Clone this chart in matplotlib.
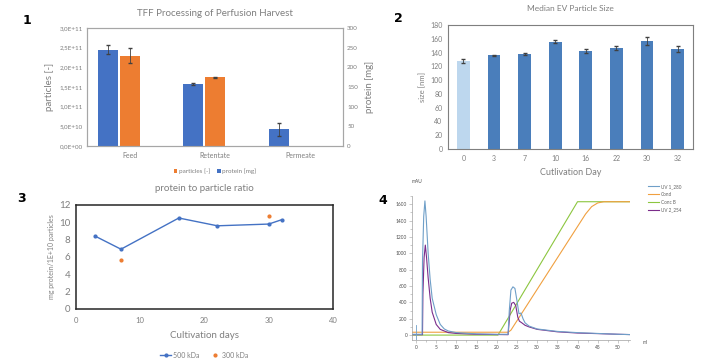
import matplotlib
matplotlib.use("Agg")
import matplotlib.pyplot as plt
import numpy as np

plt.rcParams["font.family"] = ["Lato", "DejaVu Sans"]

GRAY = "#7f7f7f"

# panel 1: TFF processing
tff_steps = ["Feed", "Retentate", "Permeate"]
protein_mg = [245, 158, 42]
protein_err = [12, 2, 17]
particles = [2.30e11, 1.75e11, 0.0]
particles_err = [0.18e11, 0.01e11, 0.0]

# panel 2: median EV particle size
cult_day_labels = ["0", "3", "7", "10", "16", "22", "30", "32"]
size_nm = [128, 136, 138, 156, 142, 146, 157, 145]
size_err = [3, 1, 1, 2, 3, 3, 6, 4]

# panel 3: protein to particle ratio
days_500 = [3, 7, 16, 22, 30, 32]
ratio_500 = [8.4, 6.9, 10.5, 9.6, 9.8, 10.3]
days_300 = [7, 30]
ratio_300 = [5.7, 10.7]

# panel 4: chromatogram
uv280_ml = [-1, 1.5, 1.6, 1.9, 2.2, 2.5, 3.0, 3.5, 4.0, 5.0, 6.0, 7.0, 8.0, 10, 15, 20, 22.8,
            23.1, 23.5, 24.0, 24.5, 25.0, 25.5, 26.0, 26.5, 27, 28, 30, 35, 40, 45, 50, 54]
uv280_mau = [10, 10, 900, 1450, 1640, 1450, 1000, 680, 450, 250, 130, 75, 50, 30, 15, 10, 10,
             300, 550, 590, 570, 420, 260, 270, 200, 150, 110, 75, 45, 30, 20, 10, 5]
uv254_ml = [-1, 1.6, 1.7, 2.0, 2.3, 2.6, 3.0, 3.5, 4.0, 5.0, 6.0, 8.0, 10, 15, 22.8,
            23.3, 23.7, 24.2, 24.7, 25.2, 25.6, 26.2, 27, 28, 30, 35, 40, 45, 50, 54]
uv254_mau = [5, 5, 500, 950, 1100, 950, 700, 450, 280, 130, 70, 30, 20, 10, 5,
             300, 390, 400, 360, 220, 170, 150, 120, 100, 70, 40, 25, 18, 10, 5]
cond_ml = [-1, 22.8, 23.5, 42, 43.5, 45, 46.5, 54]
cond_val = [35, 35, 60, 1480, 1570, 1615, 1630, 1630]
concb_ml = [-1, 20.3, 40.0, 54]
concb_val = [0, 0, 1630, 1630]

W, H = 705, 358
fig = plt.figure(figsize=(W / 100, H / 100), dpi=100)


def px_axes(left, top, right, bottom):
    return fig.add_axes([left / W, 1 - bottom / H, (right - left) / W, (bottom - top) / H])


def style_box(ax, color="#bfbfbf", lw=0.8):
    for s in ax.spines.values():
        s.set_color(color)
        s.set_linewidth(lw)


ERR = dict(ecolor="#404040", elinewidth=0.6, capsize=1.5)

# ---- panel 1
ax1 = px_axes(87, 28, 343, 146)
ax1r = ax1.twinx()
x = np.arange(len(tff_steps))
w = 0.235
ax1r.bar(x - 0.255, protein_mg, w, color="#4472c4", label="protein [mg]")
ax1r.errorbar(x - 0.255, protein_mg, yerr=protein_err, fmt="none", **ERR)
ax1.bar(x, particles, w, color="#ed7d31", label="particles [-]")
has_err = [i for i, e in enumerate(particles_err) if e > 0]
ax1.errorbar([x[i] for i in has_err], [particles[i] for i in has_err],
             yerr=[particles_err[i] for i in has_err], fmt="none", **ERR)
ax1.set_ylim(0, 3e11)
ax1r.set_ylim(0, 300)
ax1.set_xlim(-0.5, 2.5)
ax1.set_yticks(np.arange(0, 3.01e11, 0.5e11))
ax1.set_yticklabels(["0,0E+00", "5,0E+10", "1,0E+11", "1,5E+11", "2,0E+11", "2,5E+11", "3,0E+11"])
ax1r.set_yticks(np.arange(0, 301, 50))
ax1.set_xticks(x)
ax1.set_xticklabels(tff_steps)
for a in (ax1, ax1r):
    a.tick_params(length=0, labelsize=4.5, labelcolor=GRAY, pad=3)
    style_box(a, "#a6a6a6")
ax1.tick_params(axis="x", labelsize=5, pad=4)
ax1.set_ylabel("particles [-]", fontsize=7, color=GRAY, labelpad=4)
ax1r.set_ylabel("protein [mg]", fontsize=7, color=GRAY, labelpad=5)
ax1.set_title("TFF Processing of Perfusion Harvest", fontsize=7, color=GRAY, pad=9)
h1, l1 = ax1.get_legend_handles_labels()
h2, l2 = ax1r.get_legend_handles_labels()
ax1.legend(h1 + h2, l1 + l2, loc="upper center", bbox_to_anchor=(0.5, -0.14), ncol=2,
           frameon=False, fontsize=4.5, labelcolor=GRAY, handlelength=0.6, handleheight=0.6,
           handletextpad=0.3, columnspacing=1.0)

# ---- panel 2
ax2 = px_axes(448, 25, 693, 149)
colors2 = ["#bdd7ee"] + ["#4a7ebb"] * (len(size_nm) - 1)
xp = np.arange(len(size_nm))
ax2.bar(xp, size_nm, 0.42, color=colors2)
ax2.errorbar(xp, size_nm, yerr=size_err, fmt="none", **ERR)
ax2.set_ylim(0, 180)
ax2.set_xlim(-0.5, len(size_nm) - 0.5)
ax2.set_yticks(np.arange(0, 181, 20))
ax2.set_xticks(xp)
ax2.set_xticklabels(cult_day_labels)
ax2.tick_params(length=0, labelsize=5, labelcolor=GRAY, pad=4)
style_box(ax2, "#7f7f7f")
ax2.set_ylabel("size [nm]", fontsize=5.5, color=GRAY, labelpad=3)
ax2.set_xlabel("Cutlivation Day", fontsize=6.5, color=GRAY, labelpad=5)
ax2.set_title("Median EV Particle Size", fontsize=6, color=GRAY, pad=10)

# ---- panel 3
ax3 = px_axes(76, 205, 333, 309)
ax3.plot(days_500, ratio_500, color="#4472c4", marker="o", markersize=2, lw=1,
         label="500 kDa")
ax3.plot(days_300, ratio_300, color="#ed7d31", marker="o", markersize=2, lw=0,
         label="300 kDa")
ax3.set_xlim(0, 40)
ax3.set_ylim(0, 12)
ax3.set_xticks(np.arange(0, 41, 10))
ax3.set_yticks(np.arange(0, 13, 2))
ax3.tick_params(length=0, labelsize=7, labelcolor=GRAY, pad=4)
ax3.tick_params(axis="x", labelsize=5.5, pad=6)
style_box(ax3, "#262626", 1.1)
ax3.set_ylabel("mg protein/1E+10 particles", fontsize=5, color=GRAY, labelpad=3)
ax3.set_xlabel("Cultivation days", fontsize=7, color=GRAY, labelpad=5)
ax3.set_title("protein to particle ratio", fontsize=7, color=GRAY, pad=10)
ax3.legend(loc="upper center", bbox_to_anchor=(0.5, -0.35), ncol=2, frameon=False,
           fontsize=5, labelcolor=GRAY, handlelength=1.5, handletextpad=0.3, columnspacing=1.5)

# ---- panel 4
ax4 = px_axes(412, 196, 630, 340)
ax4.plot(concb_ml, concb_val, color="#8cc63f", lw=0.8, label="Conc B")
ax4.plot(cond_ml, cond_val, color="#f0a040", lw=0.8, label="Cond")
ax4.plot(uv254_ml, uv254_mau, color="#7b2c8a", lw=0.8, label="UV 2_254")
ax4.plot(uv280_ml, uv280_mau, color="#6f9fc8", lw=0.8, label="UV 1_280")
ax4.plot([0, 0], [-60, 120], color="#6f9fc8", lw=0.6)
ax4.set_xlim(-1, 53)
ax4.set_ylim(-60, 1700)
ax4.set_xticks(np.arange(0, 51, 5))
ax4.set_xticks(np.arange(0, 53, 2.5), minor=True)
ax4.set_yticks(np.arange(0, 1601, 200))
ax4.set_yticks(np.arange(0, 1701, 100), minor=True)
ax4.tick_params(labelsize=3.5, labelcolor="#505050", length=2, width=0.4, color="#a0a0a0", pad=1.5)
ax4.tick_params(which="minor", length=1.2, width=0.4, color="#a0a0a0")
for s in ("top", "right"):
    ax4.spines[s].set_visible(False)
for s in ("left", "bottom"):
    ax4.spines[s].set_color("#a0a0a0")
    ax4.spines[s].set_linewidth(0.5)
fig.text(417 / W, 1 - 181 / H, "mAU", fontsize=3.5, color="#505050", ha="center", va="center")
fig.text(645 / W, 1 - 343 / H, "ml", fontsize=3.5, color="#505050", ha="center", va="center")
h4, l4 = ax4.get_legend_handles_labels()
order = [3, 1, 0, 2]
fig.legend([h4[i] for i in order], [l4[i] for i in order], loc="upper left",
           bbox_to_anchor=(648 / W, 1 - 184 / H), frameon=False, fontsize=3.3,
           labelcolor="#606060", handlelength=2.5, handletextpad=0.3, labelspacing=0.6,
           borderaxespad=0, borderpad=0)

# panel numbers
for lab, (px, py) in zip("1234", [(27, 20), (398, 18), (21, 198), (383, 200)]):
    fig.text(px / W, 1 - py / H, lab, fontsize=9, fontweight="bold", family="DejaVu Sans",
             ha="center", va="center")

fig.savefig("out.png", dpi=100)
